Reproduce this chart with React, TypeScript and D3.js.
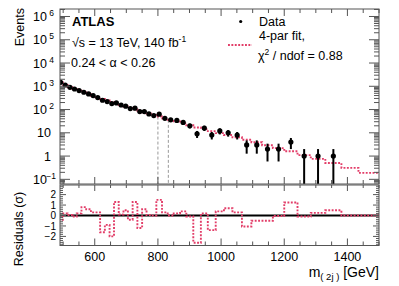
import * as d3 from 'd3';

// bin edges in GeV (43 bins)
const binEdges = [485, 499, 514, 529, 543, 558, 573, 588, 602, 617, 632, 647, 661, 676, 691, 705, 720, 735, 750, 764, 779, 795, 813, 831, 850, 870, 890, 912, 936, 958, 983, 1009, 1036, 1066, 1096, 1130, 1164, 1200, 1242, 1284, 1330, 1381, 1435, 1500];

const eventCounts = [1480, 1137, 906, 766, 653, 553, 468, 398, 327, 251, 220, 181, 192, 157, 139, 110, 114, 82, 82, 65, 55, 63, 42, 36, 34, 28, 20, 9, 16, 8, 12, 10, 8, 3, 3, 2, 2, 4, 1, 1, 1, 0, 0];

const fitValues = [1470, 1150, 920, 770, 648, 545, 462, 392, 333, 285, 244, 210, 181, 156, 135, 117, 102, 89, 77, 67, 58, 50, 42, 36, 31, 26, 21, 17, 14.4, 11.8, 9.7, 8.0, 6.4, 5.0, 3.9, 2.9, 2.2, 1.6, 1.1, 0.76, 0.5, 0.31, 0.19];

const residuals = [-0.4, 0.2, 0.05, -0.1, 0.2, 0.8, 0.6, 0.3, 0.3, -1.6, -0.9, -2.0, 1.3, 0.1, 0.5, -0.4, 1.3, -1.2, 0.6, 0.05, 0, 1.5, 0.3, 0, 0.2, 0.4, -0.1, -2.6, 0.2, -1.4, 0.4, 0.7, 0.3, -1.05, -0.5, -0.5, -0.05, 1.25, -0.1, 0.25, 0.5, 0, 0];

const xTickLabels = [600, 800, 1000, 1200, 1400];
const yDecades = [6, 5, 4, 3, 2, 1, 0, -1];
const residualTickLabels = [2, 1, 0, -1, -2];
const windowEdges = [800, 833];

const FONT = '"Liberation Sans", Arial, Helvetica, sans-serif';
const FIT_COLOR = '#e23d68';
const AXIS_COLOR = '#555';

const L = 60, R = 379, T = 9, B = 184, RT = 185, RB = 245.5;

export default function App() {
  const x = d3.scaleLinear().domain([490, 1500]).range([L, R]);
  const y = d3.scaleLog().domain([0.063, 2.1e6]).range([B, T]);
  const yr = d3.scaleLinear().domain([-2.87, 2.92]).range([RB, RT]);

  const centers = binEdges.slice(0, -1).map((e, i) => (e + binEdges[i + 1]) / 2);

  // step outlines for fit and residuals
  const stepPoints = (vals: number[]) => {
    const pts: [number, number][] = [];
    vals.forEach((v, i) => {
      pts.push([binEdges[i], v]);
      pts.push([binEdges[i + 1], v]);
    });
    return pts;
  };
  const fitPath = d3.line<[number, number]>().x(d => x(d[0])).y(d => y(d[1]))(stepPoints(fitValues));
  const resPath = d3.line<[number, number]>().x(d => x(d[0])).y(d => yr(d[1]))(stepPoints(residuals));

  const xMinor = d3.range(500, 1501, 50);
  const logTicks: { v: number; major: boolean }[] = [];
  for (let d = -2; d <= 6; d++) {
    for (let k = 1; k <= 9; k++) {
      const v = k * Math.pow(10, d);
      if (v >= 0.063 && v <= 2.1e6) logTicks.push({ v, major: k === 1 });
    }
  }
  const resTicks = d3.range(-28, 30, 2).map(v => v / 10);

  const dotted = { stroke: FIT_COLOR, strokeWidth: 1.9, strokeDasharray: '1.9 1.5', fill: 'none' };

  return (
    <svg width={399} height={286} style={{ position: 'absolute', left: 0, top: 0, background: '#fff' }} fontFamily={FONT}>
      <defs>
        <clipPath id="mainClip"><rect x={L} y={T} width={R - L} height={B - T} /></clipPath>
        <clipPath id="resClip"><rect x={L} y={RT} width={R - L} height={RB - RT} /></clipPath>
      </defs>

      {/* main panel */}
      <g clipPath="url(#mainClip)">
        {windowEdges.map((m, i) => (
          <line key={i} x1={x(m)} x2={x(m)} y1={y(fitValues[d3.bisectRight(binEdges, m) - 1])} y2={B}
            stroke="#999" strokeWidth={1} strokeDasharray="3 2" />
        ))}
        <path d={fitPath ?? ''} {...dotted} />
        {eventCounts.map((n, i) => n > 0 && (
          <g key={i}>
            <line x1={x(centers[i])} x2={x(centers[i])} y1={y(n + Math.sqrt(n))}
              y2={n - Math.sqrt(n) > 0.01 ? y(n - Math.sqrt(n)) : B} stroke="#000" strokeWidth={2} />
            <circle cx={x(centers[i])} cy={y(n)} r={2.6} fill="#000" />
          </g>
        ))}
      </g>
      <rect x={L} y={T} width={R - L} height={B - T} fill="none" stroke={AXIS_COLOR} strokeWidth={1} />

      {xMinor.map(v => {
        const len = v % 200 === 0 ? 7 : 4;
        return (
          <g key={v} stroke={AXIS_COLOR}>
            <line x1={x(v)} x2={x(v)} y1={B} y2={B - len} />
            <line x1={x(v)} x2={x(v)} y1={T} y2={T + len} />
            <line x1={x(v)} x2={x(v)} y1={RB} y2={RB - len} />
            <line x1={x(v)} x2={x(v)} y1={RT} y2={RT + len - 1} />
          </g>
        );
      })}
      {logTicks.map(({ v, major }) => {
        const len = major ? 10 : 5;
        return (
          <g key={v} stroke={AXIS_COLOR}>
            <line x1={L} x2={L + len} y1={y(v)} y2={y(v)} />
            <line x1={R} x2={R - len} y1={y(v)} y2={y(v)} />
          </g>
        );
      })}
      {yDecades.map(p => (
        <text key={p} x={p > 1 || p < 0 ? 47 : 51} y={y(Math.pow(10, p)) + 4.5} fontSize={12.5} textAnchor="end">
          {p === 0 ? '1' : '10'}
          {(p > 1 || p < 0) && <tspan x={p < 0 ? 56 : 54} dy={-5} fontSize={8.5} textAnchor="end">{p < 0 ? '\u22121' : p}</tspan>}
        </text>
      ))}
      <text transform="translate(24,8) rotate(-90)" fontSize={12.5} textAnchor="end">Events</text>

      {/* labels */}
      <text x={72} y={26} fontSize={13} fontWeight="bold">ATLAS</text>
      <text x={72} y={47} fontSize={12.5}>
        √s = 13 TeV, 140 fb<tspan dy={-5} fontSize={8.5}>-1</tspan>
      </text>
      <text x={71} y={67} fontSize={12.5}>0.24 &lt; α &lt; 0.26</text>

      {/* legend */}
      <circle cx={240.7} cy={21.5} r={1.6} fill="#000" />
      <text x={259} y={26} fontSize={12.5}>Data</text>
      <line x1={228} x2={252} y1={45} y2={45} {...dotted} />
      <text x={259} y={40} fontSize={12.5}>4-par fit,</text>
      <text x={258} y={60} fontSize={12.5}>
        χ<tspan dy={-5} fontSize={8.5}>2</tspan><tspan dy={5}> / ndof = 0.88</tspan>
      </text>

      {/* residual panel */}
      <g clipPath="url(#resClip)">
        <line x1={L} x2={R} y1={yr(0)} y2={yr(0)} stroke="#000" strokeWidth={2} />
        <path d={resPath ?? ''} {...dotted} />
      </g>
      <rect x={L} y={RT} width={R - L} height={RB - RT} fill="none" stroke={AXIS_COLOR} strokeWidth={1} />
      {resTicks.map(v => {
        const major = Math.abs(v - Math.round(v)) < 1e-6;
        const len = major ? 6 : 3;
        return (
          <g key={v} stroke={AXIS_COLOR}>
            <line x1={L} x2={L + len} y1={yr(v)} y2={yr(v)} />
            <line x1={R} x2={R - len} y1={yr(v)} y2={yr(v)} />
          </g>
        );
      })}
      {residualTickLabels.map(v => (
        <text key={v} x={56} y={yr(v) + 3.6} fontSize={10} textAnchor="end">{v < 0 ? `\u2212${-v}` : v}</text>
      ))}
      <text transform="translate(23,229) rotate(-90)" fontSize={12.5} textAnchor="middle">Residuals (σ)</text>

      {xTickLabels.map(v => (
        <text key={v} x={x(v)} y={261} fontSize={12.5} textAnchor="middle">{v}</text>
      ))}
      <text x={379} y={277} fontSize={14} textAnchor="end">
        m<tspan dy={3} fontSize={9.5}>{'( 2j )'}</tspan><tspan dy={-3}> [GeV]</tspan>
      </text>
    </svg>
  );
}
